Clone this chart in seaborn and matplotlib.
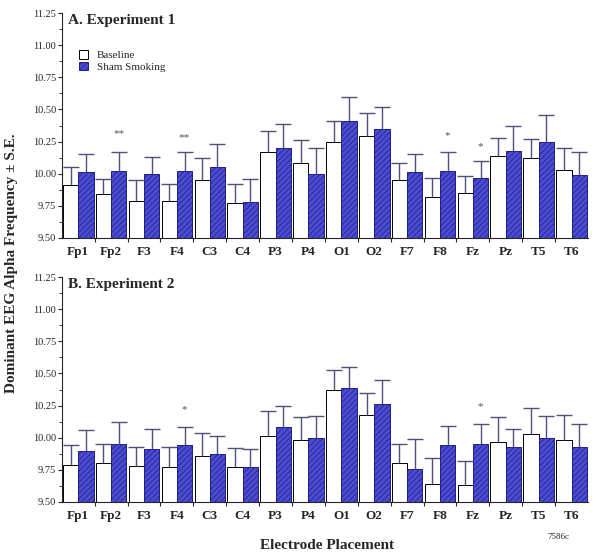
"""
Dominant EEG alpha frequency at each electrode, baseline vs sham smoking,
for two experiments. Bars are group means, whiskers show +1 S.E.
"""

import matplotlib.pyplot as plt
import matplotlib.ticker as mticker
import pandas as pd
import seaborn as sns

sns.set_style('ticks')
plt.rcParams['font.family'] = ['Liberation Serif', 'DejaVu Serif']
plt.rcParams['hatch.linewidth'] = 0.5

ELECTRODES = ['Fp1', 'Fp2', 'F3', 'F4', 'C3', 'C4', 'P3', 'P4',
              'O1', 'O2', 'F7', 'F8', 'Fz', 'Pz', 'T5', 'T6']
CONDITIONS = ['Baseline', 'Sham Smoking']

# Experiment 1
base_1 = [9.91, 9.84, 9.79, 9.79, 9.95, 9.77, 10.17, 10.08,
          10.25, 10.29, 9.95, 9.82, 9.85, 10.14, 10.12, 10.03]
base_1_se = [0.14, 0.12, 0.16, 0.13, 0.17, 0.15, 0.16, 0.18,
             0.16, 0.18, 0.135, 0.15, 0.13, 0.14, 0.15, 0.17]
sham_1 = [10.01, 10.02, 10.00, 10.02, 10.05, 9.78, 10.20, 10.00,
          10.41, 10.35, 10.01, 10.02, 9.97, 10.18, 10.25, 9.99]
sham_1_se = [0.14, 0.15, 0.13, 0.15, 0.18, 0.18, 0.19, 0.20,
             0.19, 0.17, 0.14, 0.15, 0.13, 0.19, 0.21, 0.18]
stars_1 = {'Fp2': ('**', 10.31), 'F4': ('**', 10.28),
           'F8': ('*', 10.30), 'Fz': ('*', 10.21)}

# Experiment 2
base_2 = [9.79, 9.80, 9.78, 9.77, 9.86, 9.77, 10.01, 9.98,
          10.37, 10.18, 9.80, 9.64, 9.63, 9.97, 10.03, 9.98]
base_2_se = [0.15, 0.15, 0.15, 0.16, 0.18, 0.15, 0.20, 0.18,
             0.16, 0.17, 0.15, 0.20, 0.19, 0.19, 0.20, 0.20]
sham_2 = [9.90, 9.95, 9.91, 9.94, 9.87, 9.77, 10.08, 10.00,
          10.39, 10.26, 9.76, 9.94, 9.95, 9.93, 10.00, 9.93]
sham_2_se = [0.16, 0.17, 0.16, 0.14, 0.14, 0.14, 0.17, 0.17,
             0.16, 0.19, 0.23, 0.15, 0.16, 0.14, 0.17, 0.18]
stars_2 = {'F4': ('*', 10.22), 'Fz': ('*', 10.24)}

SHAM_BLUE = '#3636e6'
SHAM_EDGE = '#1c1c8c'
ERR_COLOR = '#50507a'


def make_frame(base, sham):
    """
    parameter: baseline and sham means
    returns: long dataframe with Electrode, Condition and Freq columns
    """
    return pd.DataFrame({
        'Electrode': ELECTRODES * 2,
        'Condition': [CONDITIONS[0]] * 16 + [CONDITIONS[1]] * 16,
        'Freq': list(base) + list(sham),
    })


def draw_panel(ax, title, base, base_se, sham, sham_se, stars, legend):
    """
    draws one experiment's grouped bar chart on ax
    """
    df = make_frame(base, sham)
    sns.barplot(data=df, x='Electrode', y='Freq', hue='Condition',
                order=ELECTRODES, hue_order=CONDITIONS,
                palette={'Baseline': 'white', 'Sham Smoking': SHAM_BLUE},
                errorbar=None, width=0.93, gap=0, edgecolor='black',
                linewidth=0.7, legend=False, ax=ax)

    base_bars, sham_bars = ax.containers[0], ax.containers[1]
    for bar in sham_bars:
        bar.set_hatch('//////')
        bar.set_edgecolor(SHAM_EDGE)

    # upper S.E. whiskers only
    for bars, means, se in [(base_bars, base, base_se),
                            (sham_bars, sham, sham_se)]:
        xs = [b.get_x() + b.get_width() / 2 for b in bars]
        _, caps, _ = ax.errorbar(xs, means, yerr=[[0] * len(se), se],
                                 fmt='none', ecolor=ERR_COLOR, elinewidth=1,
                                 capsize=6, capthick=1, zorder=1)
        caps[0].set_visible(False)

    # significance markers above the sham bars
    for name, (mark, y) in stars.items():
        bar = sham_bars[ELECTRODES.index(name)]
        ax.text(bar.get_x() + bar.get_width() / 2, y, mark, ha='center',
                va='center', fontsize=8, color='#555555')

    ax.set_xlim(-0.5, 15.5)
    ax.set_ylim(9.5, 11.25)
    ax.yaxis.set_major_locator(mticker.MultipleLocator(0.25))
    ax.yaxis.set_minor_locator(mticker.MultipleLocator(0.125))
    ax.yaxis.set_major_formatter(mticker.FormatStrFormatter('%.2f'))
    ax.xaxis.set_minor_locator(mticker.FixedLocator(
        [i + 0.5 for i in range(15)]))
    ax.tick_params(axis='y', which='major', labelsize=7.5, length=3,
                   width=0.8, pad=1)
    ax.tick_params(axis='y', which='minor', length=2, width=0.6)
    ax.tick_params(axis='x', which='major', length=0, pad=6)
    ax.tick_params(axis='x', which='minor', length=3, width=0.8)
    for lab in ax.get_xticklabels():
        lab.set_fontweight('bold')
        lab.set_fontsize(9.5)
    ax.set_xlabel('')
    ax.set_ylabel('')
    sns.despine(ax=ax)
    ax.spines['left'].set_linewidth(0.8)
    ax.spines['bottom'].set_linewidth(0.8)

    ax.text(0.011, 0.995, title, transform=ax.transAxes, ha='left',
            va='top', fontsize=11, fontweight='bold')

    if legend:
        ax.legend(handles=[base_bars[0], sham_bars[0]], labels=CONDITIONS,
                  loc='upper left', bbox_to_anchor=(0.025, 0.855),
                  frameon=False, fontsize=8, handlelength=0.8,
                  handleheight=0.8, handletextpad=0.8, labelspacing=0.15,
                  borderaxespad=0)


def main():
    """
    builds both panels and saves the figure
    """
    fig = plt.figure(figsize=(6.0, 5.58), dpi=100)
    ax_a = fig.add_axes([0.103, 0.5735, 0.877, 0.403])
    ax_b = fig.add_axes([0.103, 0.1004, 0.877, 0.403])

    draw_panel(ax_a, 'A. Experiment 1', base_1, base_1_se, sham_1, sham_1_se,
               stars_1, legend=True)
    draw_panel(ax_b, 'B. Experiment 2', base_2, base_2_se, sham_2, sham_2_se,
               stars_2, legend=False)

    fig.text(0.02, 0.529, 'Dominant EEG Alpha Frequency \u00b1 S.E.',
             rotation=90, ha='center', va='center', fontsize=11,
             fontweight='bold')
    fig.text(0.545, 0.023, 'Electrode Placement', ha='center', va='center',
             fontsize=11, fontweight='bold')
    fig.text(0.93, 0.038, '7586c', ha='center', va='center', fontsize=6.5)

    fig.savefig('out.png', dpi=100)


if __name__ == '__main__':
    main()
